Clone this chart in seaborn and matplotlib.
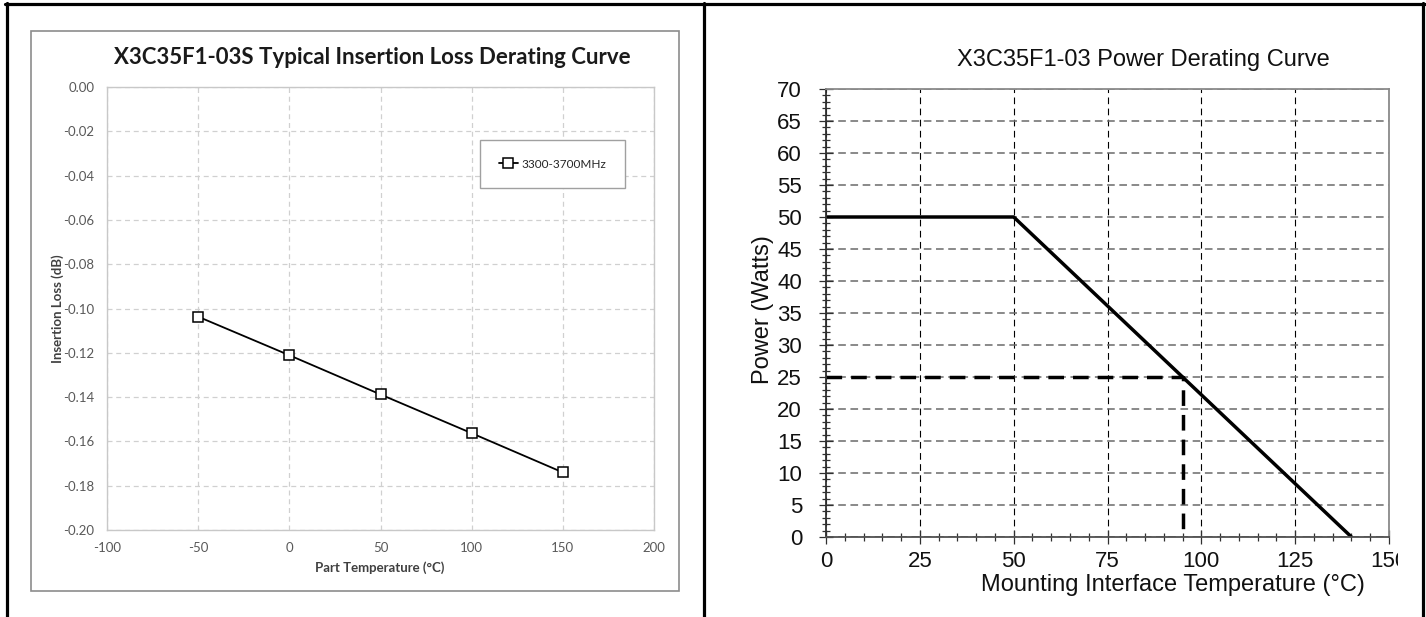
import numpy as np
import pandas as pd
import matplotlib
matplotlib.use("Agg")
import matplotlib.pyplot as plt
import seaborn as sns
from matplotlib.lines import Line2D
from matplotlib.patches import Rectangle
from matplotlib.ticker import FixedLocator, MultipleLocator, FormatStrFormatter
from matplotlib.transforms import Bbox, TransformedBbox

# left chart: insertion loss vs part temperature
part_temp = [-50, 0, 50, 100, 150]
insertion_loss = [-0.1037, -0.1211, -0.1388, -0.1563, -0.1740]
loss_series = "3300-3700MHz"
loss_xticks = [-100, -50, 0, 50, 100, 150, 200]
loss_yticks = [-0.20, -0.18, -0.16, -0.14, -0.12, -0.10, -0.08, -0.06, -0.04, -0.02, 0.00]

# right chart: power derating
mount_temp = [0, 50, 140]
power_watts = [50, 50, 0]
guide_temp = [0, 95, 95]
guide_power = [25, 25, 0]
power_xticks = [0, 25, 50, 75, 100, 125, 150]
power_yticks = [0, 5, 10, 15, 20, 25, 30, 35, 40, 45, 50, 55, 60, 65, 70]

W, H = 1426, 617
sns.set_theme(style="white")
plt.rcParams["axes.unicode_minus"] = False
fig = plt.figure(figsize=(W / 100, H / 100), dpi=100)
fig.patch.set_facecolor("white")


def fx(px):
    return px / W


def fy(py):
    return 1 - py / H


# ---------- left panel ----------
fig.add_artist(Rectangle((fx(31), fy(591)), fx(679) - fx(31), fy(31) - fy(591),
                         transform=fig.transFigure, fill=False, edgecolor="#8c8c8c", lw=1.2))

ax1 = fig.add_axes([fx(107), fy(530), fx(654) - fx(107), fy(87) - fy(530)])
loss_df = pd.DataFrame({"temp": part_temp, "loss": insertion_loss})
sns.lineplot(data=loss_df, x="temp", y="loss", ax=ax1, color="black", lw=1.3,
             marker="s", markersize=7, markerfacecolor="white", markeredgecolor="black",
             markeredgewidth=1.1, label=loss_series)
ax1.set_xlim(-100, 200)
ax1.set_ylim(-0.20, 0.0)
ax1.xaxis.set_major_locator(FixedLocator(loss_xticks))
ax1.yaxis.set_major_locator(FixedLocator(loss_yticks))
ax1.yaxis.set_major_formatter(FormatStrFormatter("%.2f"))
ax1.grid(True, color="#d0d0d0", linestyle=(0, (4, 3)), lw=0.9)
ax1.set_axisbelow(True)
for sp in ax1.spines.values():
    sp.set_color("#c8c8c8")
    sp.set_linewidth(1.0)
ax1.tick_params(length=0, labelsize=9.5, labelcolor="#595959")
ax1.tick_params(axis="y", pad=9)
ax1.tick_params(axis="x", pad=9)
for lab in ax1.get_xticklabels() + ax1.get_yticklabels():
    lab.set_family("Lato")
ax1.set_xlabel("Part Temperature (°C)", family="Lato", fontweight="bold",
               fontsize=9.5, color="#404040", va="center")
ax1.xaxis.set_label_coords(0.499, -0.0858)
ax1.set_ylabel("Insertion Loss (dB)", family="Lato", fontweight="bold",
               fontsize=9.5, color="#404040", va="center")
ax1.yaxis.set_label_coords(-0.0896, 0.499)
leg = ax1.legend(loc="center", bbox_to_anchor=(0.8145, 0.826), frameon=True,
                 fancybox=False, framealpha=1, edgecolor="#a0a0a0",
                 prop={"family": "Lato", "size": 8.5}, handlelength=1.6,
                 handletextpad=0.3, borderpad=1.6, borderaxespad=0)
leg.get_frame().set_linewidth(1.0)
fig.text(fx(372), fy(57), "X3C35F1-03S Typical Insertion Loss Derating Curve",
         family="Lato", fontweight="bold", fontsize=16, color="#1a1a1a",
         ha="center", va="center")

# ---------- right panel ----------
ax2 = fig.add_axes([fx(826), fy(537), fx(1389) - fx(826), fy(89) - fy(537)])
sns.lineplot(x=mount_temp, y=power_watts, ax=ax2, color="black", lw=2.5,
             sort=False, estimator=None, legend=False)
sns.lineplot(x=guide_temp, y=guide_power, ax=ax2, color="black", lw=2.5,
             sort=False, estimator=None, legend=False, linestyle=(0, (4.5, 2.6)))
ax2.set_xlim(0, 150)
ax2.set_ylim(0, 70)
ax2.xaxis.set_major_locator(FixedLocator(power_xticks))
ax2.yaxis.set_major_locator(FixedLocator(power_yticks))
ax2.xaxis.set_minor_locator(MultipleLocator(5))
ax2.yaxis.set_minor_locator(MultipleLocator(1))
ax2.yaxis.grid(True, which="major", color="#6a6a6a", linestyle=(0, (5, 3)), lw=1.1)
ax2.xaxis.grid(True, which="major", color="black", linestyle=(0, (6, 4)), lw=0.8)
ax2.set_axisbelow(True)
ax2.spines["left"].set_color("#303030")
ax2.spines["bottom"].set_color("#505050")
ax2.spines["top"].set_color("#8a8a8a")
ax2.spines["right"].set_color("#8a8a8a")
for sp in ax2.spines.values():
    sp.set_linewidth(1.3)
ax2.tick_params(which="both", direction="inout", color="#303030", width=0.9,
                bottom=True, left=True, top=False, right=False)
ax2.tick_params(which="major", length=9.5)
ax2.tick_params(which="minor", length=5.5)
ax2.tick_params(axis="y", which="major", pad=12.5, labelsize=16, labelcolor="#111111")
ax2.tick_params(axis="x", which="major", pad=5.5, labelsize=16, labelcolor="#111111")
for lab in ax2.get_xticklabels() + ax2.get_yticklabels():
    lab.set_family("Liberation Sans")
clip = TransformedBbox(Bbox([[0, 0], [fx(1398), 1]]), fig.transFigure)
for lab in ax2.get_xticklabels():
    lab.set_clip_box(clip)
    lab.set_clip_on(True)
ax2.set_xlabel("Mounting Interface Temperature (°C)", family="Liberation Sans",
               fontsize=17, color="#111111", va="center")
ax2.xaxis.set_label_coords((1173 - 826) / 563, -(585 - 537) / 448)
ax2.set_ylabel("Power (Watts)", family="Liberation Sans", fontsize=17,
               color="#111111", va="center")
ax2.yaxis.set_label_coords((763 - 826) / 563, (537 - 310) / 448)
fig.text(fx(1143), fy(60), "X3C35F1-03 Power Derating Curve",
         family="Liberation Sans", fontsize=17, color="#111111",
         ha="center", va="center")

# ---------- table borders ----------
for x0 in [6.5, 704, 1423]:
    fig.add_artist(Line2D([fx(x0), fx(x0)], [fy(3), 0], transform=fig.transFigure,
                          color="black", lw=2.3))
fig.add_artist(Line2D([fx(5), fx(1424.5)], [fy(4), fy(4)], transform=fig.transFigure,
                      color="black", lw=2.3))

fig.savefig("out.png", dpi=100, facecolor="white")
